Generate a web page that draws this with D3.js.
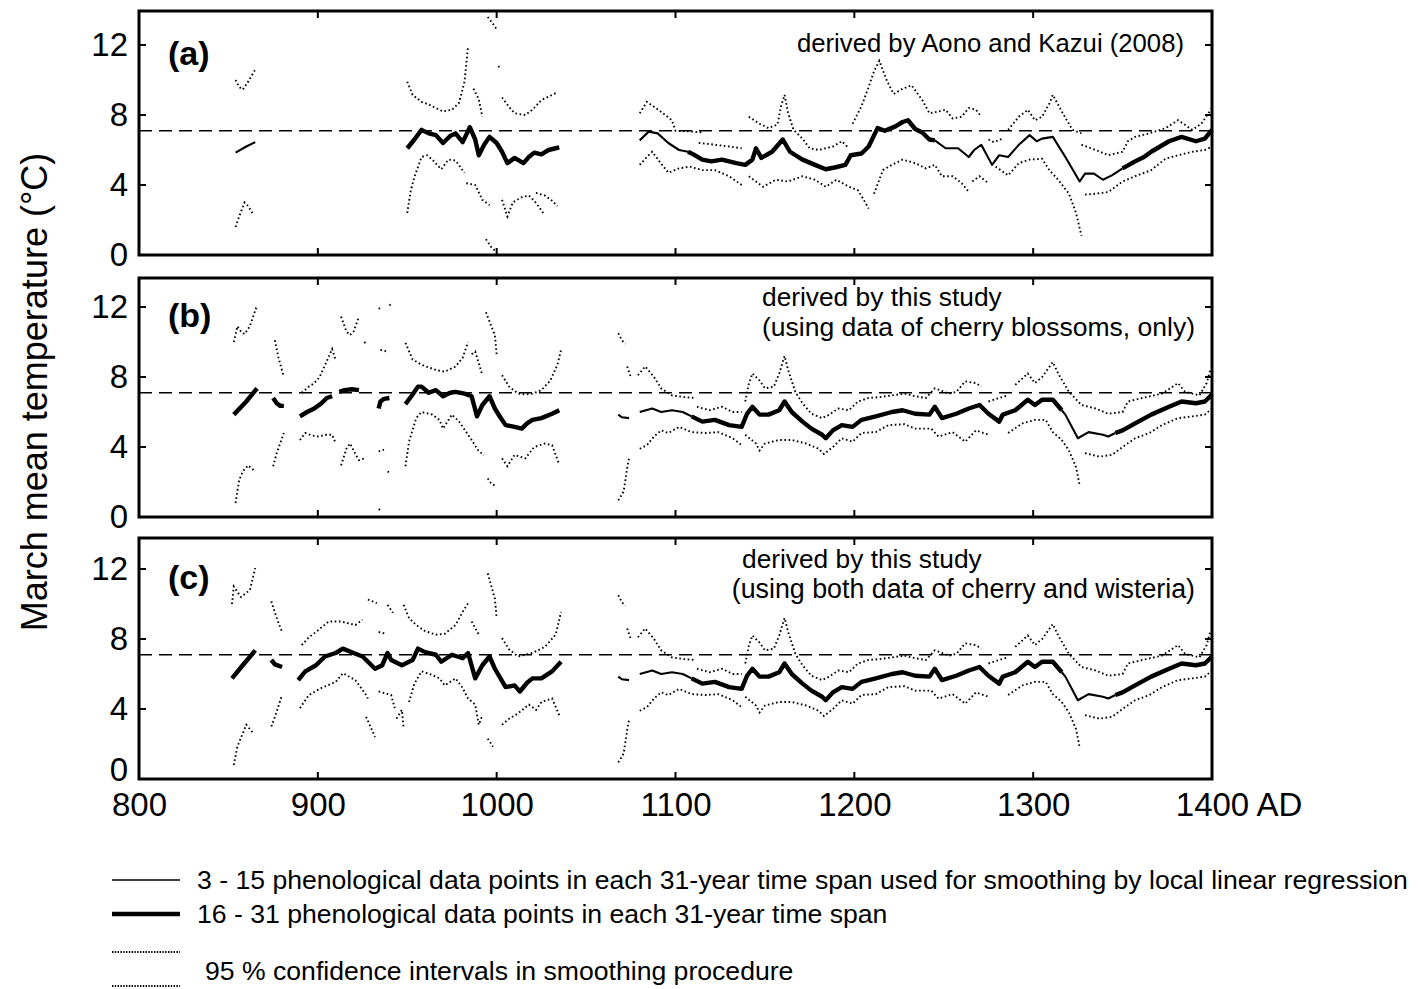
<!DOCTYPE html>
<html>
<head>
<meta charset="utf-8">
<script src="https://cdn.jsdelivr.net/npm/d3@7"></script>
<style>
  body { margin: 0; background: #fff; }
  svg { display: block; font-family: "Liberation Sans", Arial, sans-serif; }
</style>
</head>
<body>
<svg id="chart" width="1420" height="989"></svg>
<script>
const years = [800, 900, 1000, 1100, 1200, 1300, 1400]
const temps = [0, 4, 8, 12]
const normalTemp = 7.1

// smoothed March temperature; n = phenological data points per 31-year span
// (a) Aono and Kazui (2008)
const aMean = [
  { n: '3-15', pts: [[854,5.85],[860,6.2],[865,6.45]] },
  { n: '16-31', pts: [[950,6.1],[954,6.6],[958,7.15],[962,6.95],[966,6.85],[970,6.4],[974,6.8],[977,6.95],[981,6.45],[985,7.3],[988,6.6],[990,5.7],[993,6.3],[996,6.75],[1000,6.4],[1003,5.9],[1006,5.25],[1010,5.55],[1015,5.25],[1018,5.6],[1021,5.85],[1025,5.75],[1029,6.0],[1033,6.1],[1035,6.15]] },
  { n: '3-15', pts: [[1080,6.55],[1085,7.05],[1090,6.95],[1096,6.4],[1102,6.0],[1107,5.9]] },
  { n: '16-31', pts: [[1107,5.9],[1110,5.75],[1115,5.45],[1120,5.35],[1126,5.45],[1130,5.35],[1134,5.25],[1139,5.15],[1143,5.45],[1145,6.1],[1148,5.55],[1154,5.9],[1160,6.6],[1164,5.9],[1171,5.45],[1178,5.15],[1184,4.9],[1189,5.0],[1195,5.15],[1198,5.7],[1204,5.8],[1208,6.2],[1213,7.25],[1217,7.1],[1223,7.35],[1227,7.6],[1230,7.7],[1234,7.2],[1238,7.0],[1242,6.6],[1245,6.55]] },
  { n: '3-15', pts: [[1245,6.55],[1251,6.1],[1258,6.1],[1264,5.6],[1267,6.0],[1271,6.3],[1277,5.15],[1281,5.7],[1286,5.6],[1292,6.3],[1298,6.85],[1302,6.5],[1305,6.65],[1311,6.75],[1318,5.6],[1326,4.2],[1329,4.65],[1334,4.65],[1339,4.3],[1344,4.55],[1350,4.95]] },
  { n: '16-31', pts: [[1350,4.95],[1357,5.35],[1362,5.6],[1366,5.9],[1371,6.2],[1376,6.5],[1383,6.75],[1391,6.5],[1396,6.65],[1400,7.15]] },
]
const aUpper = [
  [[854,10.0],[856,9.6],[858,9.45],[861,9.9],[865,10.6]],
  [[950,9.9],[953,9.15],[958,8.75],[962,8.6],[966,8.4],[970,8.2],[975,8.3],[979,8.7],[982,9.9],[984,11.9]],
  [[987,9.5],[990,8.9],[992,7.9]],
  [[995,13.6],[998,13.2],[1000,12.9]],
  [[1001,10.8],[1002,10.6]],
  [[1003,9.0],[1007,8.45],[1010,8.1],[1016,8.0],[1020,8.3],[1025,8.85],[1031,9.15],[1034,9.3]],
  [[1080,8.1],[1084,8.75],[1089,8.4],[1093,8.1],[1098,7.7],[1100,7.1],[1110,7.05],[1115,7.0]],
  [[1113,6.4],[1118,6.35],[1122,6.3],[1130,6.2],[1137,6.1]],
  [[1141,7.9],[1147,7.5],[1152,7.25],[1157,7.45],[1159,8.5],[1161,9.15],[1163,8.1],[1166,7.15],[1171,6.65],[1175,6.1],[1180,6.0],[1188,6.2],[1193,6.5],[1197,6.1]],
  [[1199,7.5],[1204,8.5],[1208,9.6],[1211,10.5],[1214,11.1],[1218,10.0],[1222,9.2],[1227,9.5],[1232,9.7],[1238,8.85],[1242,8.1],[1247,8.2],[1251,8.3],[1255,7.8],[1260,7.9],[1264,8.4],[1268,8.3],[1271,7.9]],
  [[1275,6.6],[1278,6.45],[1283,6.65]],
  [[1286,7.15],[1292,7.9],[1297,8.3],[1301,7.7],[1305,7.9],[1309,8.65],[1311,9.15],[1316,8.2],[1322,7.15],[1327,6.95]],
  [[1327,6.3],[1335,6.0],[1342,5.7],[1350,5.9],[1353,6.5],[1357,6.75],[1365,6.95],[1374,7.25],[1381,7.7],[1384,7.5],[1389,7.15],[1394,7.5],[1398,8.1],[1400,8.4]],
]
const aLower = [
  [[854,1.6],[856,2.2],[859,3.0],[861,2.8],[864,2.3]],
  [[950,2.4],[952,3.7],[954,4.45],[958,5.6],[961,5.7],[964,5.45],[969,4.9],[973,5.45],[977,5.4],[982,4.7]],
  [[983,4.1],[988,4.0],[992,3.15],[996,2.85]],
  [[994,0.9],[997,0.45],[1000,0.15]],
  [[1003,3.15],[1006,2.2],[1009,3.0],[1014,3.3],[1018,3.4],[1021,3.1],[1024,2.7],[1026,2.4]],
  [[1022,3.55],[1027,3.4],[1031,3.1],[1034,2.8]],
  [[1080,5.15],[1084,5.6],[1087,5.9],[1091,5.35],[1096,4.7],[1102,4.95],[1108,5.05],[1115,4.85],[1122,4.85],[1130,4.5],[1137,4.0]],
  [[1141,4.5],[1145,4.2],[1149,3.9],[1156,4.3],[1163,4.2],[1171,4.5],[1178,4.3],[1184,3.9],[1190,4.3],[1197,3.9],[1202,3.7],[1205,3.2],[1208,2.65]],
  [[1211,3.5],[1216,4.85],[1221,5.15],[1227,5.45],[1234,5.25],[1240,4.95],[1245,5.15],[1249,4.5],[1255,4.5],[1260,4.1],[1264,3.6]],
  [[1266,4.2],[1270,4.5],[1275,4.1]],
  [[1279,5.05],[1286,4.55],[1292,5.25],[1298,5.45],[1305,5.5],[1309,4.85],[1314,4.3],[1320,3.5],[1324,2.4],[1327,1.1]],
  [[1329,3.45],[1335,3.5],[1342,3.6],[1350,4.2],[1357,4.5],[1366,4.85],[1374,5.5],[1381,5.7],[1389,5.9],[1396,6.0],[1400,6.2]],
]

// (b) this study, cherry only -- before 1040
const bMean = [
  { n: '16-31', pts: [[853,5.85],[860,6.6],[866,7.35]] },
  { n: '16-31', pts: [[875,6.8],[877,6.5],[879,6.35],[881,6.35]] },
  { n: '16-31', pts: [[890,5.75],[894,6.0],[898,6.2],[902,6.5],[905,6.8],[908,6.9]] },
  { n: '16-31', pts: [[912,7.15],[915,7.25],[919,7.3],[923,7.25]] },
  { n: '16-31', pts: [[934,6.2],[935,6.6],[937,6.75],[940,6.8]] },
  { n: '16-31', pts: [[949,6.45],[953,7.0],[956,7.45],[958,7.45],[962,7.1],[966,7.25],[970,6.9],[974,7.1],[977,7.15],[982,7.05],[986,6.9],[989,5.75],[992,6.4],[996,6.9],[999,6.2],[1002,5.7],[1005,5.25],[1010,5.15],[1014,5.05],[1017,5.35],[1020,5.55],[1025,5.65],[1031,5.9],[1035,6.1]] },
]
const bUpper = [
  [[853,10.0],[855,10.9],[857,10.6],[859,10.45],[862,10.9],[866,12.1]],
  [[876,10.1],[878,9.1],[881,8.0]],
  [[891,7.1],[895,7.45],[898,7.65],[901,8.0],[905,8.9],[908,9.6],[910,8.95]],
  [[913,11.45],[916,10.6],[918,10.4],[920,10.6],[923,11.45]],
  [[926,10.0],[927,9.9]],
  [[934,11.9],[935,11.95]],
  [[940,12.1],[941,12.15]],
  [[935,9.55],[937,9.5],[939,9.45]],
  [[949,9.95],[953,9.0],[958,8.7],[962,8.55],[966,8.4],[971,8.3],[977,8.6],[981,9.1],[984,10.0]],
  [[986,9.3],[988,9.45],[990,8.8],[992,8.1]],
  [[994,11.7],[997,10.9],[999,10.4],[1000,9.3]],
  [[1003,8.1],[1007,7.45],[1012,7.05],[1016,7.0],[1020,7.05],[1025,7.25],[1030,7.8],[1034,8.7],[1036,9.55]],
]
const bLower = [
  [[854,0.8],[856,2.1],[858,2.6],[861,2.95],[865,2.6]],
  [[875,2.9],[877,3.65],[881,4.8]],
  [[890,4.4],[893,4.8],[897,4.65],[900,4.6],[905,4.7],[908,4.7],[910,4.2]],
  [[913,2.95],[916,3.9],[918,4.2],[921,3.6],[923,3.25],[926,3.35]],
  [[934,3.75],[937,3.85]],
  [[939,2.6],[940,2.55]],
  [[934,0.45],[935,0.4]],
  [[949,2.9],[951,4.3],[955,5.65],[958,6.0],[964,5.85],[968,5.55],[970,5.05],[975,5.85],[979,5.45],[982,5.0],[986,4.4],[990,3.75],[993,3.55]],
  [[995,2.2],[997,1.9],[999,1.8]],
  [[1003,3.35],[1006,2.9],[1010,3.55],[1016,3.35],[1021,4.0],[1027,4.2],[1031,4.1],[1035,3.0]],
]

// (c) this study, cherry and wisteria -- before 1040
const cMean = [
  { n: '16-31', pts: [[852,5.75],[858,6.5],[865,7.35]] },
  { n: '16-31', pts: [[874,6.8],[876,6.55],[880,6.4]] },
  { n: '16-31', pts: [[889,5.65],[893,6.15],[899,6.5],[904,7.0],[910,7.2],[914,7.45],[920,7.2],[925,7.0],[928,6.7],[932,6.3],[936,6.5],[939,7.2],[941,6.8],[947,6.5],[953,6.8],[956,7.45],[960,7.25],[966,7.1],[969,6.7],[975,7.1],[981,6.9],[984,7.2],[988,5.75],[992,6.5],[996,7.0],[999,6.3],[1005,5.25],[1010,5.35],[1013,5.0],[1017,5.5],[1020,5.75],[1025,5.75],[1031,6.15],[1036,6.7]] },
]
const cUpper = [
  [[852,10.0],[853,11.0],[857,10.4],[862,10.8],[865,12.05]],
  [[874,10.15],[877,9.2],[880,8.4]],
  [[891,7.65],[895,8.1],[899,8.4],[906,9.0],[913,9.0],[921,8.8],[925,9.1]],
  [[928,10.25],[933,10.05]],
  [[934,8.4],[938,8.3]],
  [[939,9.95],[942,9.5]],
  [[948,9.95],[951,9.2],[955,8.8],[960,8.45],[966,8.25],[971,8.3],[977,8.8],[981,9.55],[984,10.05]],
  [[986,9.0],[990,8.25]],
  [[995,11.75],[999,10.3],[1000,9.2]],
  [[1003,8.05],[1007,7.4],[1012,7.0],[1020,7.2],[1027,7.55],[1033,8.25],[1036,9.55]],
]
const cLower = [
  [[853,0.8],[855,1.85],[860,3.1],[864,2.6]],
  [[874,3.0],[876,3.55],[880,4.8]],
  [[890,4.05],[895,4.8],[902,5.2],[910,5.55],[914,6.05],[921,5.65],[927,4.8],[928,4.6]],
  [[927,3.55],[932,2.4]],
  [[934,5.0],[941,4.8],[943,4.05]],
  [[944,3.45],[947,3.95],[948,2.9]],
  [[951,4.4],[954,5.45],[958,6.15],[964,5.95],[968,5.75],[971,5.35],[977,5.75],[981,5.2],[984,4.6],[988,4.25],[990,3.1],[992,3.65]],
  [[995,2.3],[998,1.85]],
  [[1003,3.1],[1007,3.45],[1012,3.75],[1018,4.25],[1022,3.95],[1025,4.4],[1031,4.6],[1035,3.65]],
]

// (b) and (c) are the same after 1060 (cherry only)
const lateMean = [
  { n: '3-15', pts: [[1068,5.85],[1070,5.7],[1074,5.65]] },
  { n: '3-15', pts: [[1080,6.0],[1087,6.2],[1092,6.0],[1098,6.1],[1104,6.0],[1109,5.75]] },
  { n: '16-31', pts: [[1109,5.75],[1115,5.45],[1122,5.55],[1130,5.25],[1137,5.15],[1140,5.9],[1143,6.3],[1147,5.85],[1152,5.85],[1158,6.1],[1161,6.6],[1165,6.0],[1171,5.45],[1176,5.05],[1182,4.7],[1184,4.5],[1188,4.95],[1193,5.25],[1199,5.15],[1204,5.55],[1212,5.75],[1221,6.0],[1227,6.1],[1234,5.9],[1242,5.85],[1245,6.3],[1249,5.65],[1257,5.9],[1264,6.2],[1270,6.4],[1275,5.9],[1281,5.45],[1283,5.85],[1290,6.1],[1297,6.7],[1301,6.4],[1305,6.7],[1311,6.7],[1316,6.1]] },
  { n: '3-15', pts: [[1316,6.1],[1318,5.85],[1325,4.5],[1331,4.85],[1339,4.7],[1342,4.6],[1346,4.8]] },
  { n: '16-31', pts: [[1346,4.8],[1350,4.95],[1357,5.35],[1366,5.85],[1376,6.3],[1383,6.6],[1391,6.5],[1396,6.6],[1400,7.0]] },
]
const lateUpper = [
  [[1068,10.5],[1070,10.1],[1072,9.9]],
  [[1073,8.6],[1075,8.0]],
  [[1079,8.1],[1083,8.6],[1088,8.0],[1092,7.35],[1098,6.95],[1105,6.85],[1111,6.8]],
  [[1112,6.3],[1119,6.1],[1126,6.3],[1132,6.0],[1137,6.0]],
  [[1139,6.6],[1141,7.6],[1143,8.2],[1147,7.8],[1150,7.35],[1155,7.45],[1158,8.2],[1161,9.2],[1163,8.4],[1167,7.15],[1171,6.5],[1176,5.9],[1182,5.65],[1186,5.85],[1191,6.2],[1197,6.1],[1202,6.6],[1208,6.8],[1214,6.85],[1221,6.95],[1228,7.05],[1234,6.9],[1240,6.8],[1245,7.35],[1253,7.05],[1257,7.15],[1262,7.75],[1268,7.65],[1271,7.45]],
  [[1275,6.6],[1281,6.8],[1286,6.95]],
  [[1290,7.55],[1297,8.2],[1301,7.65],[1305,8.0],[1311,8.85],[1314,8.2],[1320,7.15],[1327,6.4],[1335,6.2],[1342,5.9],[1350,6.0],[1353,6.6],[1361,6.8],[1372,7.05],[1381,7.65],[1385,7.15],[1393,6.95],[1397,7.65],[1399,8.4]],
]
const lateLower = [
  [[1068,0.95],[1071,1.45],[1073,2.8],[1074,3.35]],
  [[1080,3.9],[1084,4.1],[1088,4.6],[1092,4.95],[1096,4.8],[1102,5.15],[1109,4.85],[1117,4.8],[1124,4.85],[1132,4.5],[1137,4.1]],
  [[1139,4.7],[1145,4.2],[1147,3.8],[1150,4.2],[1158,4.4],[1165,4.4],[1173,4.2],[1180,3.9],[1183,3.6],[1188,4.0],[1193,4.5],[1199,4.3],[1204,4.8],[1212,4.85],[1219,5.25],[1228,5.3],[1234,5.05],[1243,5.05],[1247,4.6],[1255,4.85],[1262,4.3],[1268,4.95],[1275,4.7]],
  [[1286,4.8],[1294,5.35],[1301,5.55],[1307,5.55],[1311,4.85],[1316,4.4],[1320,3.8],[1324,2.85],[1326,1.8]],
  [[1329,3.65],[1337,3.45],[1344,3.55],[1350,4.0],[1357,4.5],[1365,4.8],[1372,5.25],[1381,5.65],[1389,5.75],[1396,5.85],[1400,6.2]],
]

const panelLabels = ['(a)', '(b)', '(c)']
const aNotes = ['derived by Aono and Kazui (2008)']
const bNotes = ['derived by this study', '(using data of cherry blossoms, only)']
const cNotes = ['derived by this study', '(using both data of cherry and wisteria)']
const yTitle = 'March mean temperature (\u00B0C)'
const legendLabels = [
  '3 - 15 phenological data points in each 31-year time span used for smoothing by local linear regression',
  '16 - 31 phenological data points in each 31-year time span',
  '95 % confidence intervals in smoothing procedure',
]

const FONT_TICK = 33
const left = 139, right = 1212

const panels = [
  { label: panelLabels[0], top: 11, bottom: 255, mean: aMean, upper: aUpper, lower: aLower,
    notes: [{ text: aNotes[0], x: 1184, at: 11.6, anchor: 'end', size: 25.7 }] },
  { label: panelLabels[1], top: 278, bottom: 517, mean: bMean.concat(lateMean), upper: bUpper.concat(lateUpper), lower: bLower.concat(lateLower),
    notes: [{ text: bNotes[0], x: 762, at: 12.06, anchor: 'start', size: 26.3 }, { text: bNotes[1], x: 1195, at: 10.34, anchor: 'end', size: 26.5 }] },
  { label: panelLabels[2], top: 538, bottom: 779, mean: cMean.concat(lateMean), upper: cUpper.concat(lateUpper), lower: cLower.concat(lateLower),
    notes: [{ text: cNotes[0], x: 742, at: 12.06, anchor: 'start', size: 26.3 }, { text: cNotes[1], x: 1195, at: 10.34, anchor: 'end', size: 26.8 }] },
]

const svg = d3.select('#chart')
const x = d3.scaleLinear().domain([800, 1400]).range([left, right])

const thin = 2.1, thick = 4.4
const ciDash = '1.6 2.6'

function drawPanel(p, i) {
  const y = d3.scaleLinear().domain([0, 12]).range([p.bottom, p.bottom - 210])
  const line = d3.line().x(d => x(d[0])).y(d => y(d[1]))
  const g = svg.append('g').attr('class', 'panel')

  g.append('line')
    .attr('x1', left).attr('x2', right)
    .attr('y1', y(normalTemp)).attr('y2', y(normalTemp))
    .attr('stroke', '#000').attr('stroke-width', 1.7)
    .attr('stroke-dasharray', '13 7')

  g.selectAll('path.ci')
    .data(p.upper.concat(p.lower))
    .join('path')
      .attr('class', 'ci')
      .attr('d', line)
      .attr('fill', 'none')
      .attr('stroke', '#000')
      .attr('stroke-width', 1.9)
      .attr('stroke-dasharray', ciDash)

  g.selectAll('path.mean')
    .data(p.mean)
    .join('path')
      .attr('class', 'mean')
      .attr('d', d => line(d.pts))
      .attr('fill', 'none')
      .attr('stroke', '#000')
      .attr('stroke-linejoin', 'round')
      .attr('stroke-width', d => d.n === '16-31' ? thick : thin)

  // frame + inward ticks on all sides
  g.append('rect')
    .attr('x', left).attr('y', p.top)
    .attr('width', right - left).attr('height', p.bottom - p.top)
    .attr('fill', 'none').attr('stroke', '#000').attr('stroke-width', 3)

  const ticks = g.append('g').attr('stroke', '#000').attr('stroke-width', 2)
  years.slice(1, -1).forEach(yr => {
    ticks.append('line').attr('x1', x(yr)).attr('x2', x(yr)).attr('y1', p.bottom).attr('y2', p.bottom - 7)
    ticks.append('line').attr('x1', x(yr)).attr('x2', x(yr)).attr('y1', p.top).attr('y2', p.top + 7)
  })
  temps.forEach(t => {
    ticks.append('line').attr('x1', left).attr('x2', left + 7).attr('y1', y(t)).attr('y2', y(t))
    ticks.append('line').attr('x1', right).attr('x2', right - 7).attr('y1', y(t)).attr('y2', y(t))
  })

  const yAxis = g.append('g')
    .attr('transform', `translate(${left},0)`)
    .call(d3.axisLeft(y).tickValues(temps).tickSize(0).tickPadding(11))
  yAxis.select('.domain').remove()
  yAxis.selectAll('text')
    .attr('font-family', '"Liberation Sans", Arial, sans-serif')
    .attr('font-size', FONT_TICK)
    .attr('fill', '#000')
  // bottom "0" sits a little high so it clears the year labels of the last panel
  if (i === panels.length - 1) yAxis.selectAll('.tick text').filter(d => d === 0).attr('dy', '0.05em')

  g.append('text')
    .attr('x', 168).attr('y', y(12) + 20)
    .attr('font-size', 34).attr('font-weight', 'bold')
    .text(p.label)

  p.notes.forEach(n => {
    g.append('text')
      .attr('x', n.x).attr('y', y(n.at))
      .attr('text-anchor', n.anchor)
      .attr('font-size', n.size)
      .text(n.text)
  })

  if (i === panels.length - 1) {
    const xAxis = g.append('g')
      .attr('transform', `translate(0,${p.bottom})`)
      .call(d3.axisBottom(x).tickValues(years).tickFormat(d3.format('d')).tickSize(0).tickPadding(14))
    xAxis.select('.domain').remove()
    xAxis.selectAll('text')
      .attr('font-family', '"Liberation Sans", Arial, sans-serif')
      .attr('font-size', FONT_TICK)
      .attr('fill', '#000')
    // last label reads "1400 AD" with the year itself centred on the tick
    const last = xAxis.selectAll('.tick text').filter(d => d === 1400)
    const w = last.node().getComputedTextLength()
    last.attr('text-anchor', 'start').attr('x', -w / 2).text('1400 AD')
  }
}

panels.forEach(drawPanel)

svg.append('text')
  .attr('transform', 'translate(47,392) rotate(-90)')
  .attr('text-anchor', 'middle')
  .attr('font-size', 36)
  .text(yTitle)

// legend
const lg = svg.append('g').attr('font-size', 26.6)
lg.append('line').attr('x1', 112).attr('x2', 180).attr('y1', 880).attr('y2', 880)
  .attr('stroke', '#000').attr('stroke-width', 1.5)
lg.append('text').attr('x', 197).attr('y', 889).text(legendLabels[0])
lg.append('line').attr('x1', 112).attr('x2', 180).attr('y1', 914).attr('y2', 914)
  .attr('stroke', '#000').attr('stroke-width', thick)
lg.append('text').attr('x', 197).attr('y', 923).text(legendLabels[1])
;[952, 986].forEach(ly => {
  lg.append('line').attr('x1', 112).attr('x2', 180).attr('y1', ly).attr('y2', ly)
    .attr('stroke', '#000').attr('stroke-width', 1.8).attr('stroke-dasharray', '1.4 1.4')
})
lg.append('text').attr('x', 205).attr('y', 980).text(legendLabels[2])
</script>
</body>
</html>
